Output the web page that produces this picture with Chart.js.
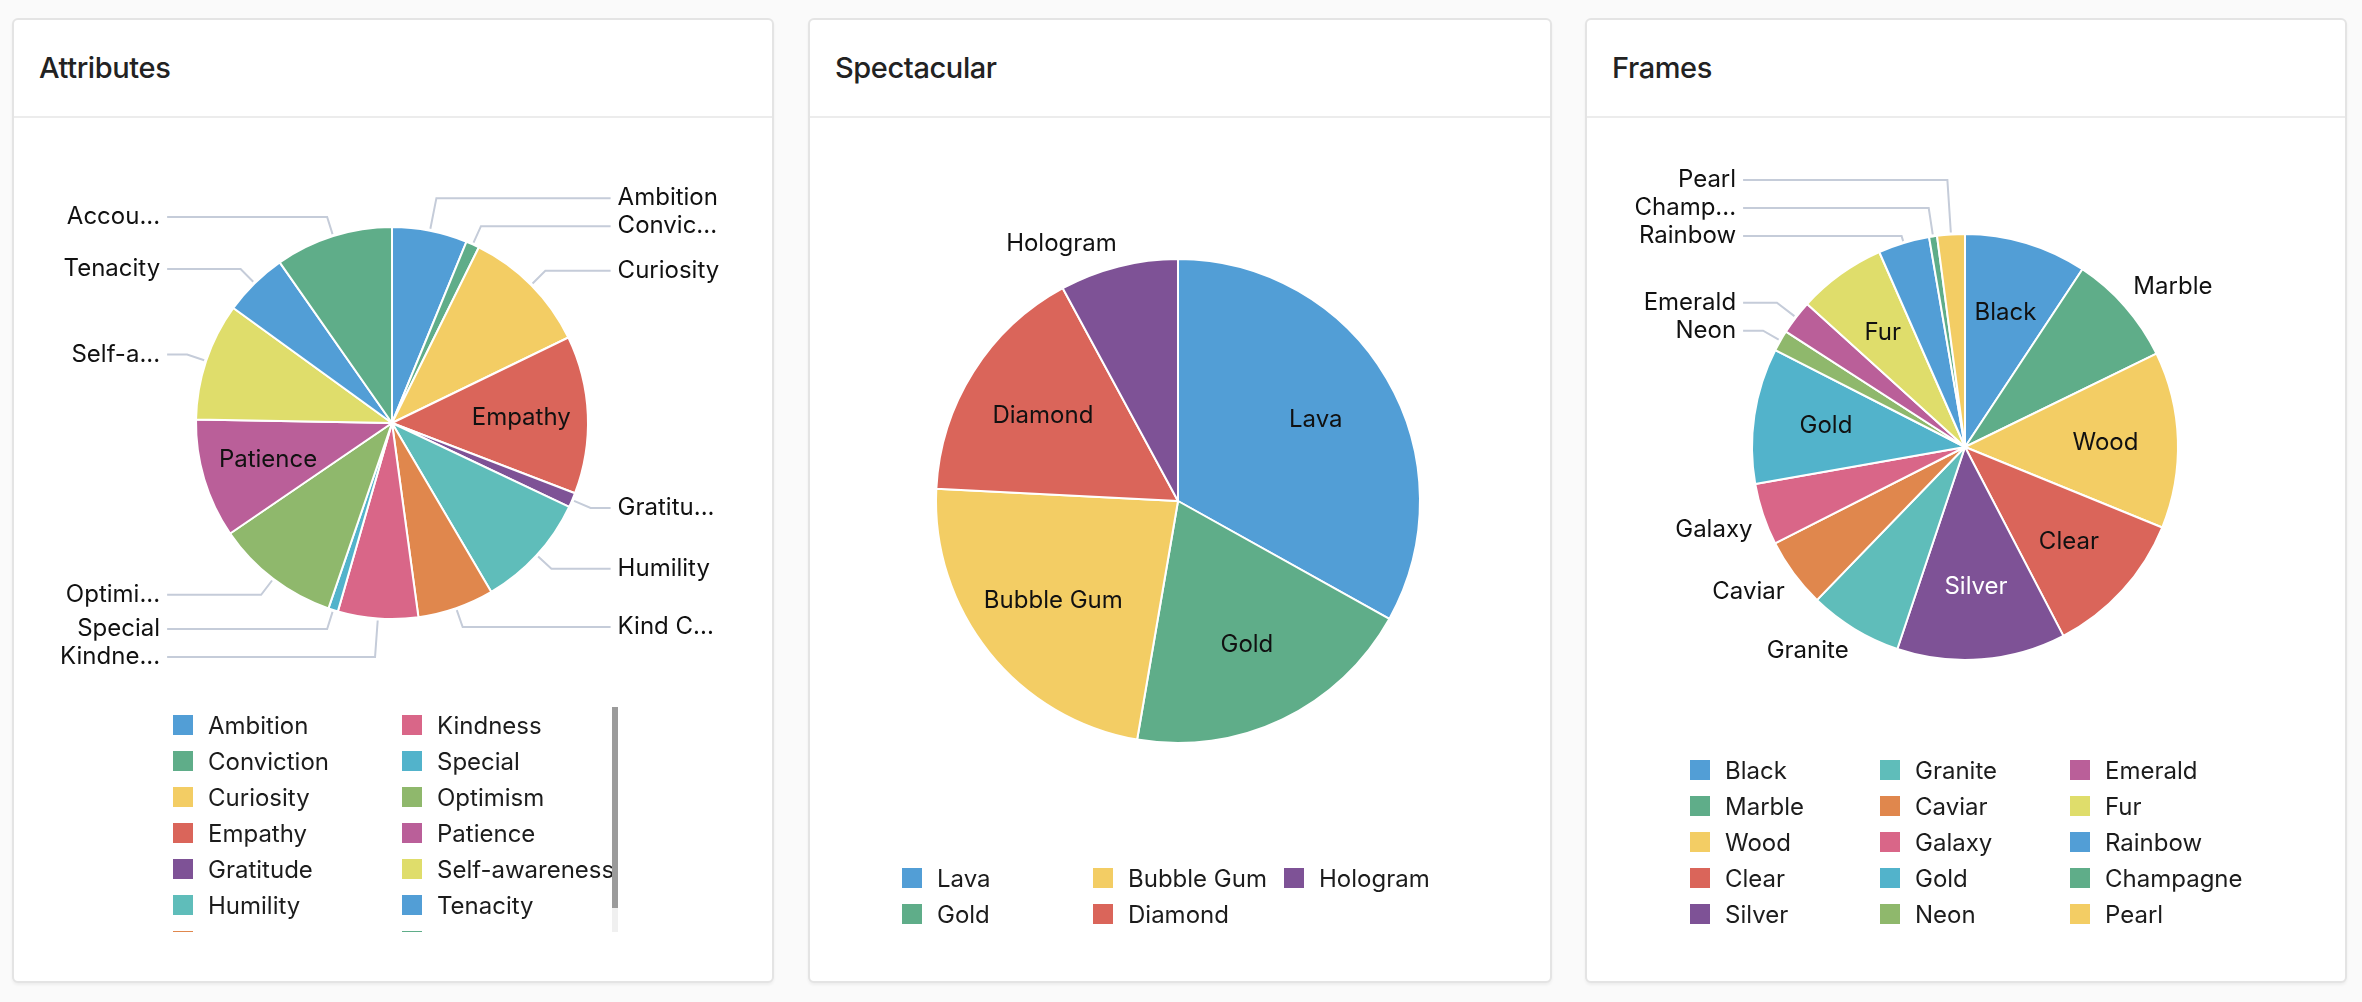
<!DOCTYPE html>
<html>
<head>
<meta charset="utf-8">
<title>Attributes / Spectacular / Frames</title>
<script src="https://cdn.jsdelivr.net/npm/chart.js@4.4.1/dist/chart.umd.min.js"></script>
<style>
  html, body { margin: 0; padding: 0; }
  body {
    width: 2362px; height: 1002px; position: relative; overflow: hidden;
    background: #fafafa; font-family: Inter, "Noto Sans", sans-serif;
  }
  .card {
    position: absolute; top: 18px; height: 965px; box-sizing: border-box;
    background: #fff; border: 2px solid #e4e4e4; border-radius: 6px;
    box-shadow: 0 2px 3px rgba(0, 0, 0, 0.05);
  }
  .card-head {
    height: 98px; box-sizing: border-box; border-bottom: 2px solid #ececec;
    padding-left: 25px; font-size: 29px; line-height: 96px; color: #222; font-weight: 500;
    letter-spacing: -0.4px;
  }
  .card canvas { position: absolute; left: 0; top: 98px; }
  .legend { position: absolute; bottom: 49px; overflow: hidden; }
  .legend-grid { display: grid; grid-auto-flow: column; }
  .legend-item {
    height: 36px; display: flex; align-items: center; white-space: nowrap;
    font-size: 24px; color: #1c1c1c;
  }
  .legend-item .box { width: 20px; height: 20px; margin-right: 15px; flex: none; }
  .track { position: absolute; bottom: 49px; width: 6px; background: #f0f0f0; }
  .track .thumb { width: 6px; background: #9b9b9b; }
</style>
</head>
<body>

<div class="card" style="left:12px; width:762px;">
  <div class="card-head">Attributes</div>
  <canvas id="attributes-chart" width="758" height="863"></canvas>
</div>
<div class="card" style="left:808px; width:744px;">
  <div class="card-head">Spectacular</div>
  <canvas id="spectacular-chart" width="740" height="863"></canvas>
</div>
<div class="card" style="left:1585px; width:762px;">
  <div class="card-head">Frames</div>
  <canvas id="frames-chart" width="758" height="863"></canvas>
</div>

<script>
const attributeLabels = ['Ambition', 'Conviction', 'Curiosity', 'Empathy', 'Gratitude', 'Humility', 'Kind Conduct',
    'Kindness', 'Special', 'Optimism', 'Patience', 'Self-awareness', 'Tenacity', 'Accountability'];
const attributeValues = [6.2, 1.1, 10.5, 13.0, 1.2, 9.5, 6.3, 6.6, 0.8, 10.2, 9.8, 9.7, 5.3, 9.7];

const spectacularLabels = ['Lava', 'Gold', 'Bubble Gum', 'Diamond', 'Hologram'];
const spectacularValues = [33.1, 19.6, 23.1, 16.3, 7.9];

const frameLabels = ['Black', 'Marble', 'Wood', 'Clear', 'Silver', 'Granite', 'Caviar', 'Galaxy',
    'Gold', 'Neon', 'Emerald', 'Fur', 'Rainbow', 'Champagne', 'Pearl'];
const frameValues = [9.3, 8.5, 13.4, 11.2, 12.8, 7.1, 5.3, 4.7, 10.3, 1.6, 2.6, 6.7, 3.9, 0.6, 2.1];

const palette = ['#529ed6', '#5fad89', '#f3cd64', '#da655a', '#7e5296', '#5fbdba',
    '#e0874d', '#d96688', '#52b3cb', '#8fb86c', '#ba5f99', '#dfdd6b'];

const FONT = '24px Inter, "Noto Sans", sans-serif';

function isDark(hex) {
    const n = parseInt(hex.slice(1), 16);
    const r = n >> 16, g = (n >> 8) & 255, b = n & 255;
    return 0.299 * r + 0.587 * g + 0.114 * b < 118;
}

// does a text box centred on (lx, ly) stay inside the slice?
function fitsInSlice(a, lx, ly, w, h, pad) {
    const span = a.endAngle - a.startAngle;
    const corners = [[lx - w / 2, ly - h / 2], [lx + w / 2, ly - h / 2], [lx - w / 2, ly + h / 2], [lx + w / 2, ly + h / 2]];
    return corners.every(([px, py]) => {
        const vx = px - a.x, vy = py - a.y;
        const d = Math.hypot(vx, vy);
        if (d > a.outerRadius - pad) return false;
        let rel = Math.atan2(vy, vx) - a.startAngle;
        rel = ((rel % (2 * Math.PI)) + 2 * Math.PI) % (2 * Math.PI);
        if (rel > span) return false;
        if (rel < Math.PI / 2 && d * Math.sin(rel) < pad) return false;
        if (span - rel < Math.PI / 2 && d * Math.sin(span - rel) < pad) return false;
        return true;
    });
}

function clipText(ctx, s, max) {
    if (ctx.measureText(s).width <= max) return s;
    while (s.length > 1 && ctx.measureText(s + '...').width > max) s = s.slice(0, -1);
    return s + '...';
}

// push labels away from the pie's middle, then keep them inside the band
function spread(items, cy, minY, maxY, gap) {
    items.forEach(o => { o.y = o.ny; });
    const upper = items.filter(o => o.ny < cy);
    const lower = items.filter(o => o.ny >= cy);
    for (let k = upper.length - 2; k >= 0; k--) upper[k].y = Math.min(upper[k].y, upper[k + 1].y - gap);
    for (let k = 1; k < lower.length; k++) lower[k].y = Math.max(lower[k].y, lower[k - 1].y + gap);
    if (!items.length) return;
    if (items[0].y < minY) {
        items[0].y = minY;
        for (let k = 1; k < items.length; k++) items[k].y = Math.max(items[k].y, items[k - 1].y + gap);
    }
    const last = items.length - 1;
    if (items[last].y > maxY) {
        items[last].y = maxY;
        for (let k = last - 1; k >= 0; k--) items[k].y = Math.min(items[k].y, items[k + 1].y - gap);
    }
}

const sliceLabels = {
    id: 'sliceLabels',
    afterDatasetsDraw(chart) {
        const ctx = chart.ctx;
        const meta = chart.getDatasetMeta(0);
        const names = chart.data.labels;
        const fills = chart.data.datasets[0].backgroundColor;
        ctx.save();
        ctx.font = FONT;
        ctx.textBaseline = 'middle';
        const outside = [];
        let cx = 0, cy = 0, r = 0;

        meta.data.forEach((arc, i) => {
            const a = arc.getProps(['x', 'y', 'startAngle', 'endAngle', 'outerRadius'], true);
            cx = a.x; cy = a.y; r = a.outerRadius;
            const mid = (a.startAngle + a.endAngle) / 2;
            const dx = Math.cos(mid), dy = Math.sin(mid);
            const w = ctx.measureText(names[i]).width;
            const lx = a.x + dx * r * 0.66, ly = a.y + dy * r * 0.66;
            if (fitsInSlice(a, lx, ly, w, 18, 2)) {
                ctx.fillStyle = isDark(fills[i]) ? '#fff' : '#111';
                ctx.textAlign = 'center';
                ctx.fillText(names[i], lx, ly);
            } else {
                outside.push({ text: names[i], w, dx, dy, right: dx >= 0, ny: a.y + dy * (r + 20) });
            }
        });

        const columnMode = outside.length > 10;
        [false, true].forEach(isRight => {
            const side = outside.filter(o => o.right === isRight).sort((p, q) => p.ny - q.ny);
            side.forEach((o, k) => {
                if (columnMode) o.line = true;
                else if (k > 0 && o.ny - side[k - 1].ny < 28) { o.line = true; side[k - 1].line = true; }
            });

            // labels that sit next to their slice
            side.filter(o => !o.line).forEach(o => {
                const px = cx + o.dx * (r + 11), py = cy + o.dy * (r + 11);
                const fx = Math.max(-1, Math.min(1, o.dx * 4));
                const fy = Math.max(-1, Math.min(1, o.dy * 4));
                ctx.fillStyle = '#111';
                ctx.textAlign = 'center';
                ctx.fillText(o.text, px + fx * o.w / 2, py + fy * 12);
            });

            // labels stacked in a column with leader lines
            const lined = side.filter(o => o.line);
            if (!lined.length) return;
            spread(lined, cy, cy - r - 54, cy + r + 54, 28);
            lined.forEach(o => {
                o.sx = cx + o.dx * (r + 2);
                o.sy = cy + o.dy * (r + 2);
                let t = Math.abs(o.dy) > 0.05 ? (o.y - o.sy) / o.dy : 0;
                t = Math.max(0, Math.min(80, t));
                o.ex = o.sx + o.dx * t;
                o.ey = o.sy + o.dy * t;
            });
            const edge = isRight ? Math.max(...lined.map(o => o.ex)) + 20 : Math.min(...lined.map(o => o.ex)) - 20;
            lined.forEach(o => {
                ctx.strokeStyle = '#c5ccd9';
                ctx.lineWidth = 2;
                ctx.beginPath();
                ctx.moveTo(o.sx, o.sy);
                ctx.lineTo(o.ex, o.ey);
                ctx.lineTo(edge, o.y);
                ctx.stroke();
                ctx.fillStyle = '#111';
                ctx.textAlign = isRight ? 'left' : 'right';
                ctx.fillText(clipText(ctx, o.text, 102), isRight ? edge + 7 : edge - 7, o.y);
            });
        });
        ctx.restore();
    }
};

function buildLegend(chart, card) {
    const items = chart.options.plugins.legend.labels.generateLabels(chart);
    const mctx = document.createElement('canvas').getContext('2d');
    mctx.font = FONT;
    const widest = Math.max(...items.map(it => mctx.measureText(it.text).width));
    const colW = Math.round(35 + widest + 17);
    const cols = Math.max(1, Math.floor((600 + 17) / colW));
    const rows = Math.ceil(items.length / cols);
    const width = cols * colW - 17;
    const full = rows * 36;
    const height = Math.min(full, 225);
    const left = Math.round((card.clientWidth - width) / 2);

    const box = document.createElement('div');
    box.className = 'legend';
    box.style.width = width + 'px';
    box.style.height = height + 'px';
    box.style.left = left + 'px';

    const grid = document.createElement('div');
    grid.className = 'legend-grid';
    grid.style.gridTemplateRows = `repeat(${rows}, 36px)`;
    grid.style.gridAutoColumns = colW + 'px';
    items.forEach(it => {
        const row = document.createElement('div');
        row.className = 'legend-item';
        row.innerHTML = `<span class="box" style="background:${it.fillStyle}"></span>${it.text}`;
        grid.appendChild(row);
    });
    box.appendChild(grid);
    card.appendChild(box);

    // the legend only shows part of its rows: draw a scroll indicator
    if (full > height) {
        const track = document.createElement('div');
        track.className = 'track';
        track.style.left = (left + width - 2) + 'px';
        track.style.height = height + 'px';
        const thumb = document.createElement('div');
        thumb.className = 'thumb';
        thumb.style.height = Math.round(height * height / full) + 'px';
        track.appendChild(thumb);
        card.appendChild(track);
    }
}

function makePie(canvasId, labels, values, padding) {
    const canvas = document.getElementById(canvasId);
    const chart = new Chart(canvas, {
        type: 'pie',
        data: {
            labels: labels,
            datasets: [{
                data: values,
                backgroundColor: labels.map((_, i) => palette[i % palette.length]),
                borderColor: '#fff',
                borderWidth: 2,
                hoverOffset: 0
            }]
        },
        options: {
            responsive: false,
            animation: false,
            layout: { padding: padding },
            plugins: {
                legend: { display: false },
                tooltip: { enabled: false }
            }
        },
        plugins: [sliceLabels]
    });
    buildLegend(chart, canvas.parentElement);
    return chart;
}

makePie('attributes-chart', attributeLabels, attributeValues, { left: 181, right: 183, top: 108, bottom: 361 });
makePie('spectacular-chart', spectacularLabels, spectacularValues, { left: 125, right: 129, top: 140, bottom: 237 });
makePie('frames-chart', frameLabels, frameValues, { left: 164, right: 166, top: 115, bottom: 320 });
</script>
</body>
</html>
